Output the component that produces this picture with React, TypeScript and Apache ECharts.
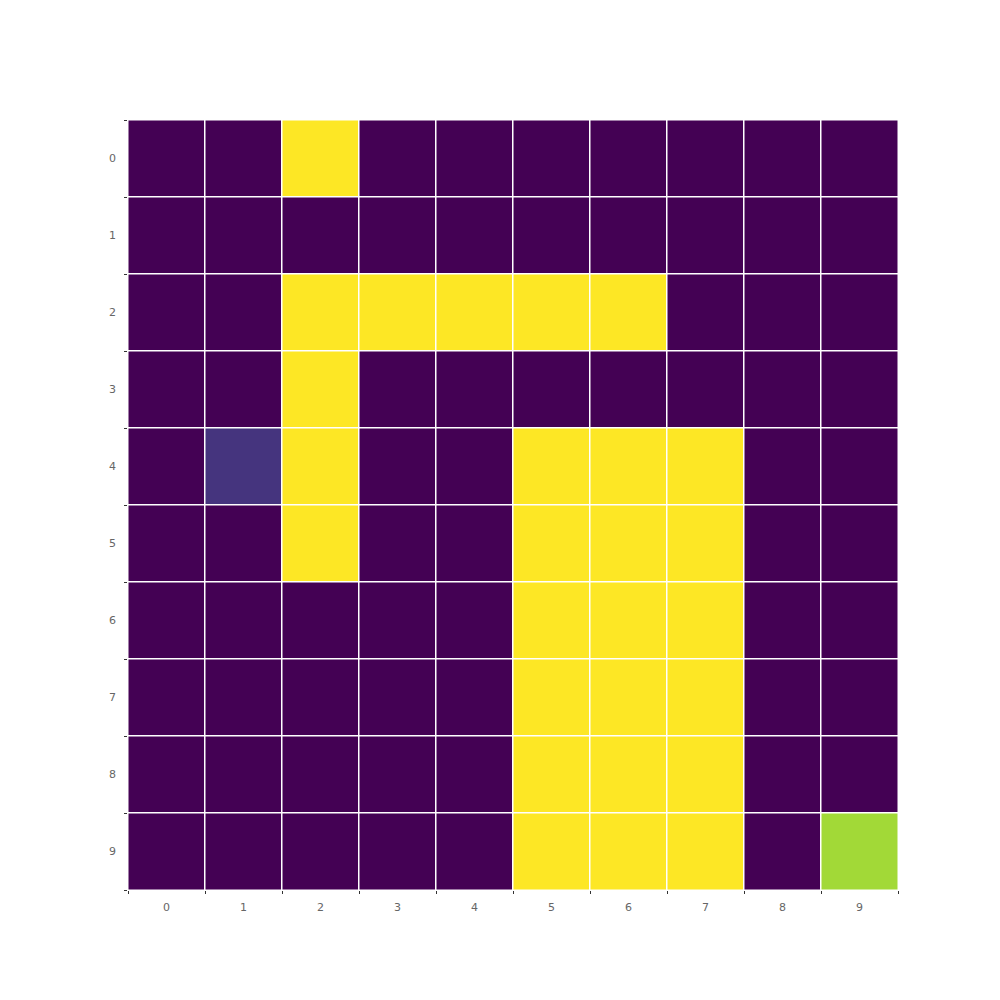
import React, { useEffect, useRef } from "react";
import * as echarts from "echarts";

const xLabels = ["0", "1", "2", "3", "4", "5", "6", "7", "8", "9"];
const yLabels = ["0", "1", "2", "3", "4", "5", "6", "7", "8", "9"];

const row0 = [0, 0, 1, 0, 0, 0, 0, 0, 0, 0];
const row1 = [0, 0, 0, 0, 0, 0, 0, 0, 0, 0];
const row2 = [0, 0, 1, 1, 1, 1, 1, 0, 0, 0];
const row3 = [0, 0, 1, 0, 0, 0, 0, 0, 0, 0];
const row4 = [0, 0.15, 1, 0, 0, 1, 1, 1, 0, 0];
const row5 = [0, 0, 1, 0, 0, 1, 1, 1, 0, 0];
const row6 = [0, 0, 0, 0, 0, 1, 1, 1, 0, 0];
const row7 = [0, 0, 0, 0, 0, 1, 1, 1, 0, 0];
const row8 = [0, 0, 0, 0, 0, 1, 1, 1, 0, 0];
const row9 = [0, 0, 0, 0, 0, 1, 1, 1, 0, 0.86];
const rows = [row0, row1, row2, row3, row4, row5, row6, row7, row8, row9];

const viridis = [
  "#440154", "#482475", "#414487", "#355f8d", "#2a788e",
  "#21918c", "#22a884", "#44bf70", "#7ad151", "#bddf26", "#fde725",
];

export default function App() {
  const ref = useRef<HTMLDivElement>(null);
  useEffect(() => {
    if (!ref.current) return;
    const chart = echarts.init(ref.current, undefined, { renderer: "svg" });
    const data: [number, number, number][] = [];
    rows.forEach((r, yi) => r.forEach((v, xi) => data.push([xi, yi, v])));
    const axisCommon = {
      type: "category" as const,
      axisLine: { show: false },
      axisTick: { show: true, length: 4, lineStyle: { color: "#333", width: 1 } },
      axisLabel: { color: "#666", fontSize: 11, fontFamily: "DejaVu Sans" },
      splitLine: { show: false },
    };
    chart.setOption({
      animation: false,
      backgroundColor: "#ffffff",
      grid: { left: 120, top: 112, width: 770, height: 770, containLabel: false },
      xAxis: { ...axisCommon, data: xLabels, axisLabel: { ...axisCommon.axisLabel, margin: 12 } },
      yAxis: { ...axisCommon, data: yLabels, inverse: true, axisLabel: { ...axisCommon.axisLabel, margin: 12 } },
      visualMap: {
        show: false,
        min: 0,
        max: 1,
        inRange: { color: viridis },
      },
      series: [
        {
          type: "heatmap",
          data,
          itemStyle: { borderColor: "#ffffff", borderWidth: 1.5 },
          emphasis: { disabled: true },
        },
      ],
    });
    return () => chart.dispose();
  }, []);
  return <div ref={ref} style={{ width: 1000, height: 1000 }} />;
}
